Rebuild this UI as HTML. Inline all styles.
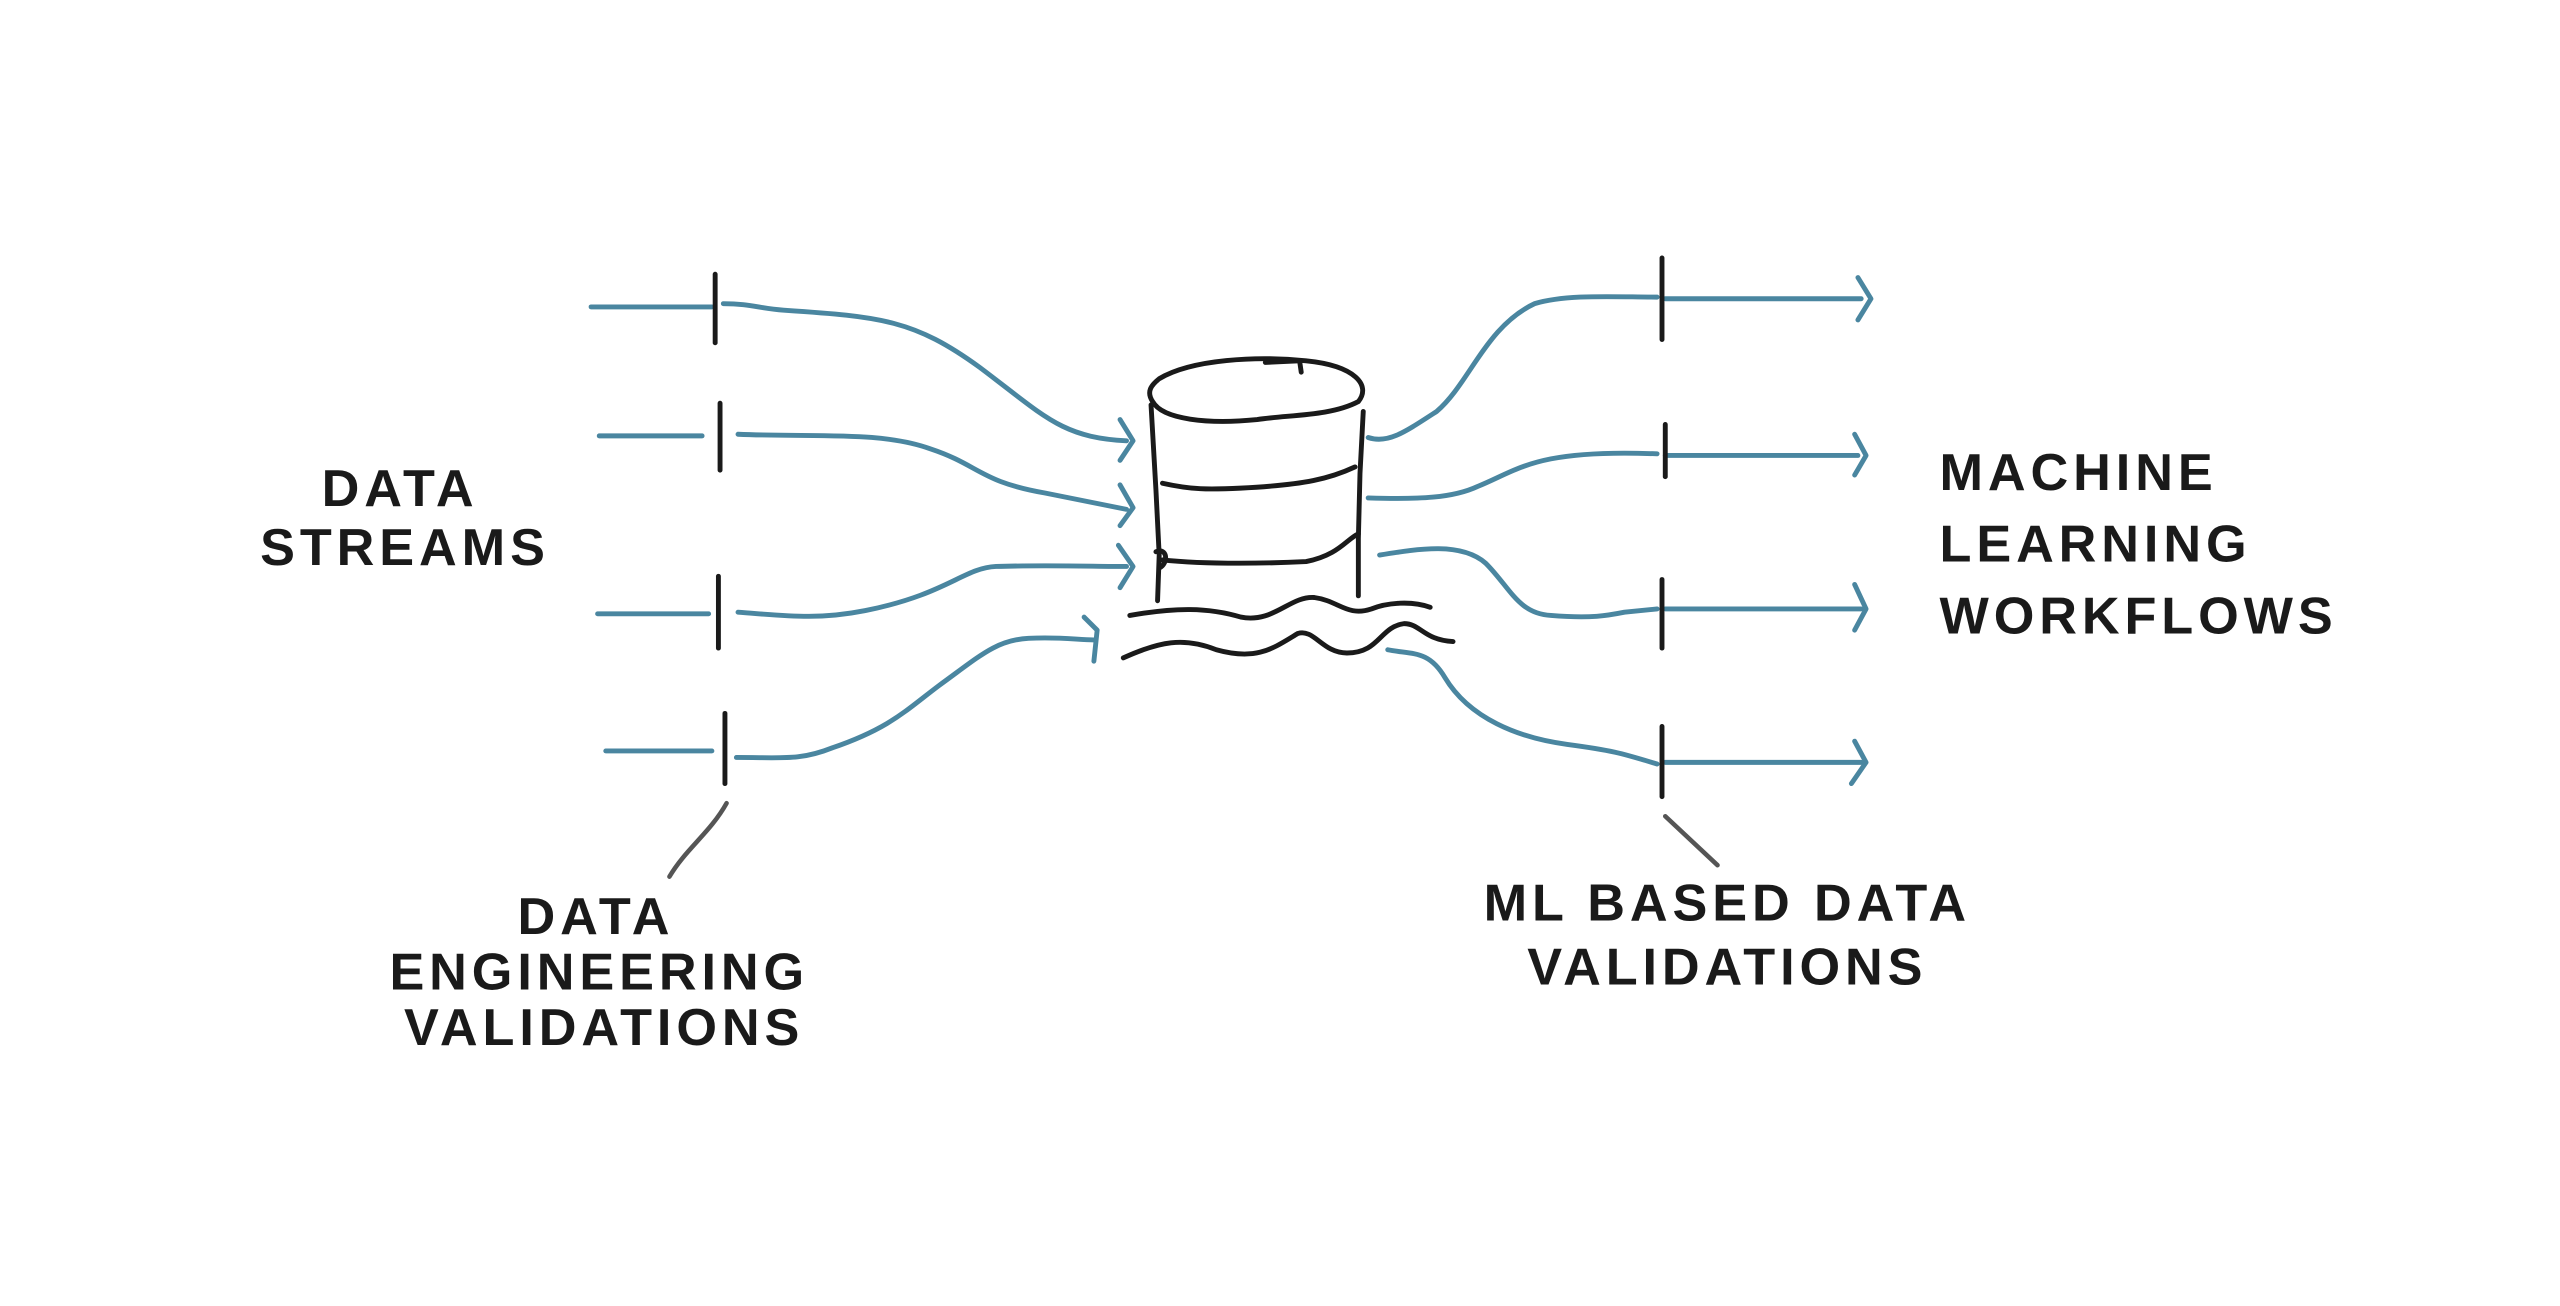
<!DOCTYPE html>
<html><head><meta charset="utf-8"><style>
html,body{margin:0;padding:0;background:#fff;}
svg{display:block;}
text{font-family:"Liberation Sans",sans-serif;font-size:32px;font-weight:bold;fill:#1a1a1a;letter-spacing:3px;}
</style></head><body>
<svg width="2560" height="1306" viewBox="0 0 1568 800" xmlns="http://www.w3.org/2000/svg">
<rect width="1568" height="800" fill="#fff"/>
<g fill="none" stroke="#4a86a0" stroke-width="3" stroke-linecap="round" stroke-linejoin="round">
<path d="M362 188 L436 188"/>
<path d="M443 186 C460 186 465 189 480 190 C540 194 560 196 600 225 C640 255 650 268 690 270"/>
<path d="M686 257 L694 270 L686 282"/>
<path d="M367 267 L430 267"/>
<path d="M452 266 C500 268 540 264 570 275 C600 285 600 295 640 302 C665 307 680 310 690 312"/>
<path d="M686 297 L694 311 L686 322"/>
<path d="M366 376 L434 376"/>
<path d="M452 375 C480 377 500 380 530 374 C580 364 590 348 610 347 C640 346 670 347 690 347"/>
<path d="M685 334 L694 347 L686 360"/>
<path d="M371 460 L436 460"/>
<path d="M451 464 C480 464 490 466 510 458 C545 446 555 435 575 420 C600 402 610 392 630 391 C650 390 660 392 670 392"/>
<path d="M664 378 L672 386 L670 405"/>
<path d="M838 268 C850 272 860 265 880 252 C900 235 910 200 940 186 C960 180 990 182 1015 182"/>
<path d="M1020 183 L1140 183"/><path d="M1138 170 L1146 183 L1138 196"/>
<path d="M838 305 C870 306 890 305 905 298 C930 288 940 275 1015 278"/>
<path d="M1020 279 L1138 279"/><path d="M1136 266 L1143 279 L1136 291"/>
<path d="M845 340 C870 336 895 332 910 345 C925 360 930 376 950 377 C975 379 985 377 995 375 L1015 373"/>
<path d="M1020 373 L1140 373"/><path d="M1136 358 L1143 373 L1136 386"/>
<path d="M850 398 C865 401 875 398 885 415 C900 440 930 452 960 456 C990 460 995 462 1015 468"/>
<path d="M1020 467 L1140 467"/><path d="M1136 454 L1143 467 L1134 480"/>
</g>
<g fill="none" stroke="#1a1a1a" stroke-width="3" stroke-linecap="round">
<path d="M438 168 L438 210"/><path d="M441 247 L441 288"/><path d="M440 353 L440 397"/><path d="M444 437 L444 480"/>
<path d="M1018 158 L1018 208"/><path d="M1020 260 L1020 292"/><path d="M1018 355 L1018 397"/><path d="M1018 445 L1018 488"/>
<path d="M710 232 C730 220 770 218 800 221 C830 224 840 236 832 246 C815 255 790 254 770 257 C740 260 712 257 706 246 C702 240 705 236 710 232 Z"/>
<path d="M775 222 L796 221 L797 228"/>
<path d="M705 248 L708 300 L710 340 L709 368"/>
<path d="M835 252 L833 290 L832 330 L832 365"/>
<path d="M712 296 C730 300 740 300 760 299 C800 297 815 293 830 286"/>
<path d="M712 343 C740 346 780 345 800 344 C820 340 825 330 832 327"/>
<path d="M708 338 C715 335 716 345 710 348"/>
<path d="M692 377 C720 372 740 372 760 378 C780 382 790 365 805 366 C820 368 825 378 840 373 C850 369 865 368 876 372"/>
<path d="M688 403 C710 393 725 390 745 398 C770 405 780 397 795 388 C805 385 810 400 825 400 C845 400 845 384 860 382 C870 382 872 392 890 393"/>
</g>
<g stroke="#555" stroke-width="2.8" stroke-linecap="round" fill="none">
<path d="M445 492 C435 510 420 520 410 537"/>
<path d="M1020 500 L1052 530"/>
</g>
<text x="245" y="310" text-anchor="middle">DATA</text>
<text x="248" y="346" text-anchor="middle">STREAMS</text>
<text x="365" y="572" text-anchor="middle">DATA</text>
<text x="367" y="606" text-anchor="middle">ENGINEERING</text>
<text x="370" y="640" text-anchor="middle">VALIDATIONS</text>
<text x="1058" y="564" text-anchor="middle">ML BASED DATA</text>
<text x="1058" y="603" text-anchor="middle">VALIDATIONS</text>
<text x="1188" y="300">MACHINE</text>
<text x="1188" y="344">LEARNING</text>
<text x="1188" y="388">WORKFLOWS</text>
</svg>
</body></html>
